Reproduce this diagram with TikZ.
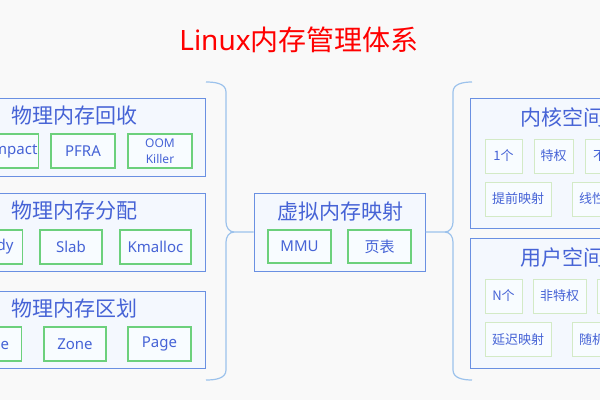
\documentclass[tikz,border=0pt]{standalone}
\usepackage{fontspec}
\setmainfont{Noto Sans CJK SC}
\newfontfamily\latinfont{Noto Sans}
\usetikzlibrary{positioning}

\definecolor{bgcol}{HTML}{F9F9F9}
\definecolor{grpfill}{HTML}{F4F8FE}
\definecolor{grpline}{HTML}{6A90E2}
\definecolor{txtblue}{HTML}{4663D6}
\definecolor{leafgreen}{HTML}{6CD07C}
\definecolor{palegreen}{HTML}{D3EAC6}
\definecolor{leaffill}{HTML}{F8FCFF}
\definecolor{bracecol}{HTML}{9CC2EC}

\begin{document}
\begin{tikzpicture}[x=1pt, y=-1pt,
    group/.style={rectangle, draw=grpline, fill=grpfill, line width=1pt},
    grouptitle/.style={text=txtblue, inner sep=0pt, font=\fontsize{21}{24}\selectfont},
    leaf/.style={rectangle, draw=leafgreen, fill=leaffill, line width=1.1pt, text=txtblue,
                 minimum height=34pt, inner sep=1pt, align=center, font=\fontsize{15}{17}\latinfont},
    softleaf/.style={leaf, draw=palegreen, line width=1pt, font=\fontsize{13}{15}\selectfont},
    brace/.style={draw=bracecol, line width=1.2pt}
  ]
    \useasboundingbox (0,0) rectangle (600,400);
    \fill[bgcol] (0,0) rectangle (600,400);
    \clip (0,0) rectangle (600,400);

    \node[text=red, font=\fontsize{28}{32}\selectfont] (title) at (299,40) {{\latinfont Linux}内存管理体系};

    % physical memory
    \node[group, minimum width=250pt, minimum height=78pt] (recycle) at (80,137) {};
    \node[grouptitle] (recycleT) at (75,116) {物理内存回收};
    \node[leaf, minimum width=63pt] (compact) at (6,151) {Compact};
    \node[leaf, minimum width=64pt] (pfra) at (83,151) {PFRA};
    \node[leaf, minimum width=64pt, font=\fontsize{12}{16}\latinfont] (oom) at (160,151) {OOM\\Killer};

    \node[group, minimum width=250pt, minimum height=78pt] (alloc) at (80,232) {};
    \node[grouptitle] (allocT) at (75,211) {物理内存分配};
    \node[leaf, minimum width=63pt] (buddy) at (-9,247) {Buddy};
    \node[leaf, minimum width=62pt] (slab) at (71,247) {Slab};
    \node[leaf, minimum width=71pt] (kmalloc) at (155.5,247) {Kmalloc};

    \node[group, minimum width=250pt, minimum height=77pt] (zoning) at (80,329.5) {};
    \node[grouptitle] (zoningT) at (75,309) {物理内存区划};
    \node[leaf, minimum width=63pt] (nodebox) at (-10,344) {Node};
    \node[leaf, minimum width=62pt] (zone) at (75,344) {Zone};
    \node[leaf, minimum width=63pt] (page) at (159.5,344) {Page};

    % virtual memory
    \node[group, minimum width=171pt, minimum height=78pt] (virt) at (339.5,232) {};
    \node[grouptitle] (virtT) at (340,212) {虚拟内存映射};
    \node[leaf, minimum width=63pt, minimum height=33pt] (mmu) at (299.5,246.5) {MMU};
    \node[leaf, minimum width=63pt, minimum height=33pt, font=\fontsize{15}{17}\selectfont] (ptable) at (379.5,246.5) {页表};

    % address spaces
    \node[group, minimum width=184pt, minimum height=130pt] (kernel) at (562,163) {};
    \node[grouptitle] (kernelT) at (562,117) {内核空间};
    \node[softleaf, minimum width=37pt] (kone) at (503.5,156) {1个};
    \node[softleaf, minimum width=39pt] (kpriv) at (553.5,156) {特权};
    \node[softleaf, minimum width=68pt] (kswap) at (619,156) {不可换出};
    \node[softleaf, minimum width=66pt] (kearly) at (518,199) {提前映射};
    \node[softleaf, minimum width=66pt] (klinear) at (605,199) {线性映射};

    \node[group, minimum width=184pt, minimum height=130pt] (user) at (562,303) {};
    \node[grouptitle] (userT) at (562,258) {用户空间};
    \node[softleaf, minimum width=37pt] (un) at (503.5,296) {N个};
    \node[softleaf, minimum width=53pt] (unpriv) at (559.5,296) {非特权};
    \node[softleaf, minimum width=53pt] (uswap) at (623.5,296) {可换出};
    \node[softleaf, minimum width=66pt] (ulazy) at (518,339.5) {延迟映射};
    \node[softleaf, minimum width=66pt] (urandom) at (605,339.5) {随机映射};

    % braces
    \coordinate (lbtop) at (206,82);
    \coordinate (lbbot) at (206,380);
    \coordinate (rbtop) at (472,82);
    \coordinate (rbbot) at (472,380);
    \draw[brace] (lbtop) to[out=0, in=90] (226,92) -- (226,222) to[out=-90, in=180] (234,232) -- (virt.west);
    \draw[brace] (lbbot) to[out=0, in=-90] (226,370) -- (226,242) to[out=90, in=180] (234,232);
    \draw[brace] (rbtop) to[out=180, in=90] (453,92) -- (453,222) to[out=-90, in=0] (445,232) -- (virt.east);
    \draw[brace] (rbbot) to[out=180, in=-90] (453,370) -- (453,242) to[out=90, in=0] (445,232);
\end{tikzpicture}
\end{document}
